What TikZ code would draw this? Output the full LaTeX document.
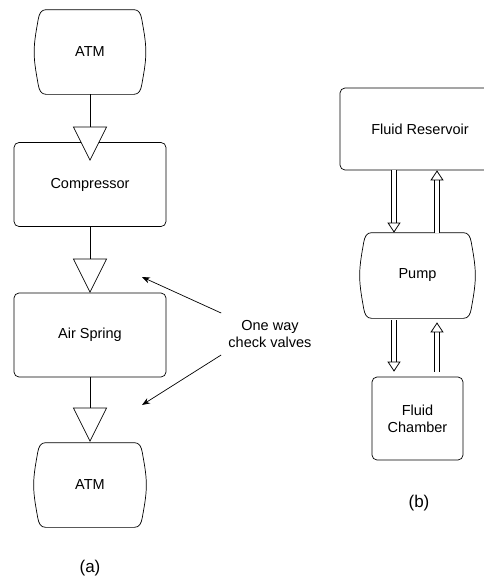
\documentclass[tikz,border=0pt]{standalone}
\usepackage{fontspec}
\setmainfont{Liberation Sans}
\usetikzlibrary{shapes.geometric,arrows.meta}
\tikzset{
	box/.style={draw,rounded corners=5pt,minimum width=#1,minimum height=84pt,inner sep=0pt},
	tank/.style={minimum width=#1,minimum height=84pt,inner sep=0pt},
	valve/.style={draw,fill=white,isosceles triangle,isosceles triangle stretches,
		shape border rotate=-90,minimum width=33pt,minimum height=33pt,inner sep=0pt,anchor=apex},
	flow/.style={double,double distance=4.5pt,line width=0.8pt,-{Triangle[open,length=10pt,width=13pt]}},
	pointer/.style={-{Stealth[length=8pt,width=6pt]}},
}
\newcommand{\tankline}[1]{%
	\draw ([xshift=12pt]#1.north west) -- ([xshift=-12pt]#1.north east)
	.. controls ([xshift=-7pt]#1.north east) and ([xshift=-5pt,yshift=-4pt]#1.north east) .. ([xshift=-4pt,yshift=-10pt]#1.north east)
	.. controls ([xshift=-2.7pt,yshift=-18pt]#1.north east) and ([yshift=12pt]#1.east) .. (#1.east)
	.. controls ([yshift=-12pt]#1.east) and ([xshift=-2.7pt,yshift=18pt]#1.south east) .. ([xshift=-4pt,yshift=10pt]#1.south east)
	.. controls ([xshift=-5pt,yshift=4pt]#1.south east) and ([xshift=-7pt]#1.south east) .. ([xshift=-12pt]#1.south east)
	-- ([xshift=12pt]#1.south west)
	.. controls ([xshift=7pt]#1.south west) and ([xshift=5pt,yshift=4pt]#1.south west) .. ([xshift=4pt,yshift=10pt]#1.south west)
	.. controls ([xshift=2.7pt,yshift=18pt]#1.south west) and ([yshift=-12pt]#1.west) .. (#1.west)
	.. controls ([yshift=12pt]#1.west) and ([xshift=2.7pt,yshift=-18pt]#1.north west) .. ([xshift=4pt,yshift=-10pt]#1.north west)
	.. controls ([xshift=5pt,yshift=-4pt]#1.north west) and ([xshift=7pt]#1.north west) .. cycle;}
\begin{document}
\begin{tikzpicture}[x=1pt,y=-1pt,line width=0.7pt,font=\fontsize{14.5}{17}\selectfont]
	\useasboundingbox (0,0) rectangle (483,584);
	\path
	(90,52) coordinate (A1)
	(90,184.5) coordinate (C)
	(90,335) coordinate (S)
	(90,485) coordinate (A2)
	(90,161) coordinate (V1)
	(90,293) coordinate (V2)
	(90,442) coordinate (V3)
	(420,129) coordinate (R)
	(417.5,275.5) coordinate (P)
	(417.5,418.5) coordinate (F)
	(394,0) coordinate (dn)
	(437,0) coordinate (up)
	(142,277) coordinate (tip1)
	(142,405) coordinate (tip2)
	;
	% (a) air circuit
	\node[tank=111pt] (atm1) at (A1) {ATM};
	\node[box=152pt] (comp) at (C) {Compressor};
	\node[box=152pt] (spring) at (S) {Air Spring};
	\node[tank=112pt] (atm2) at (A2) {ATM};
	\tankline{atm1}
	\tankline{atm2}
	\foreach \v/\p in {v1/V1,v2/V2,v3/V3}{
		\node[valve] (\v) at (\p) {};
	}
	\draw (atm1) -- (v1.lower side);
	\draw (comp) -- (v2.lower side);
	\draw (spring) -- (v3.lower side);
	\node[align=center,inner sep=7pt] (note) at (270,334) {One way\\check valves};
	\draw[pointer] (note.north west) -- (tip1);
	\draw[pointer] (note.south west) -- (tip2);
	\node[font=\fontsize{17}{20}\selectfont] (la) at (90,568) {(a)};
	% (b) fluid circuit
	\node[box=160pt,minimum height=82pt] (res) at (R) {Fluid Reservoir};
	\node[tank=115pt,minimum height=85pt] (pump) at (P) {Pump};
	\node[box=91pt,minimum height=83pt,align=center] (cham) at (F) {Fluid\\Chamber};
	\tankline{pump}
	\draw[flow] (res.south -| dn) -- (pump.north -| dn);
	\draw[flow] (pump.north -| up) -- (res.south -| up);
	\draw[flow,shorten <=2pt,shorten >=5pt] (pump.south -| dn) -- (cham.north -| dn);
	\draw[flow,shorten <=5pt,shorten >=4pt] (cham.north -| up) -- (pump.south -| up);
	\node[font=\fontsize{17}{20}\selectfont] (lb) at (419,503) {(b)};
\end{tikzpicture}
\end{document}
